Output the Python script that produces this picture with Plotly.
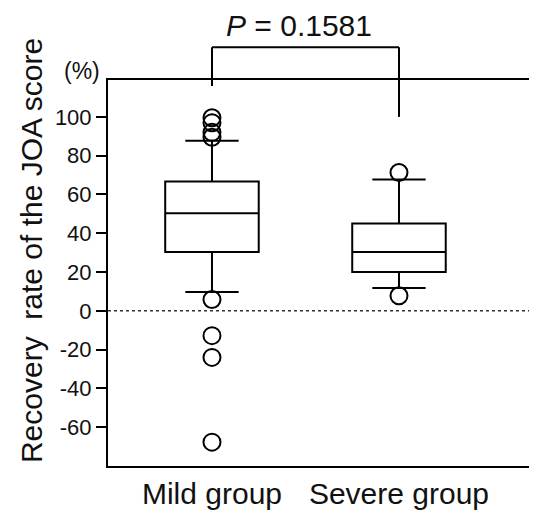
import plotly.graph_objects as go

# ---- data ----
groups = ["Mild group", "Severe group"]
q1 = [30.3, 20.0]
median = [50.3, 30.3]
q3 = [66.7, 45.0]
lower_whisker = [9.7, 11.8]
upper_whisker = [87.7, 67.7]
mild_outliers = [99.5, 97.0, 92.0, 89.5, 5.8, -12.8, -24.0, -67.7]
severe_outliers = [71.3, 7.8]
p_label = "<i>P</i> = 0.1581"
y_ticks = [100, 80, 60, 40, 20, 0, -20, -40, -60]

Y_MIN, Y_MAX = -80, 119
BRACKET_Y = 135.9
LEFT_LEG_END = 115.9
RIGHT_LEG_END = 100

FONT = "Liberation Sans, Arial, sans-serif"


def to_paper(v):
    return (v - Y_MIN) / (Y_MAX - Y_MIN)


fig = go.Figure()

for i, g in enumerate(groups):
    fig.add_trace(go.Box(
        x=[i], q1=[q1[i]], median=[median[i]], q3=[q3[i]],
        lowerfence=[lower_whisker[i]], upperfence=[upper_whisker[i]],
        width=0.5, whiskerwidth=0.57, boxpoints=False,
        line=dict(color="black", width=2), fillcolor="white",
        showlegend=False, name=g,
    ))

fig.add_trace(go.Scatter(
    x=[0] * len(mild_outliers) + [1] * len(severe_outliers),
    y=mild_outliers + severe_outliers,
    mode="markers",
    marker=dict(symbol="circle-open", size=17, color="black", line=dict(width=2)),
    showlegend=False,
))

# reference line at 0
fig.add_shape(type="line", xref="paper", yref="y", x0=0, x1=1, y0=0, y1=0,
              line=dict(color="#333", width=1.5, dash="dot"), layer="below")

# significance bracket
bl = dict(color="black", width=2)
fig.add_shape(type="line", xref="x", yref="paper", x0=0, x1=1,
              y0=to_paper(BRACKET_Y), y1=to_paper(BRACKET_Y), line=bl)
fig.add_shape(type="line", xref="x", yref="paper", x0=0, x1=0,
              y0=to_paper(LEFT_LEG_END), y1=to_paper(BRACKET_Y), line=bl)
fig.add_shape(type="line", xref="x", yref="paper", x0=1, x1=1,
              y0=to_paper(RIGHT_LEG_END), y1=to_paper(BRACKET_Y), line=bl)

fig.add_annotation(text=p_label, xref="x", yref="paper", x=0.465, y=1.142,
                   showarrow=False, font=dict(family=FONT, size=30, color="#111"),
                   xanchor="center", yanchor="middle")
fig.add_annotation(text="(%)", xref="paper", yref="paper", x=-0.0606, y=1.023,
                   showarrow=False, font=dict(family=FONT, size=23, color="#111"),
                   xanchor="center", yanchor="middle")
fig.add_annotation(text="Recovery  rate of the JOA score", xref="paper", yref="paper",
                   x=-0.177, y=0.557, textangle=-90, showarrow=False,
                   font=dict(family=FONT, size=30, color="#111"),
                   xanchor="center", yanchor="middle")

fig.update_layout(
    width=529, height=502,
    margin=dict(l=100, r=0, t=72, b=42),
    paper_bgcolor="white", plot_bgcolor="white",
    xaxis=dict(range=[-0.556, 1.738], tickvals=[0, 1], ticktext=groups,
               showline=True, mirror=True, linecolor="black", linewidth=2,
               ticks="", showgrid=False, zeroline=False,
               tickfont=dict(family=FONT, size=30, color="#111")),
    yaxis=dict(range=[Y_MIN, Y_MAX], tickvals=y_ticks,
               ticktext=[str(v) for v in y_ticks],
               showline=True, linecolor="black", linewidth=2,
               ticks="outside", ticklen=10, tickwidth=2, tickcolor="black",
               showgrid=False, zeroline=False,
               tickfont=dict(family=FONT, size=22, color="#111")),
)

fig.write_html("out.html")
